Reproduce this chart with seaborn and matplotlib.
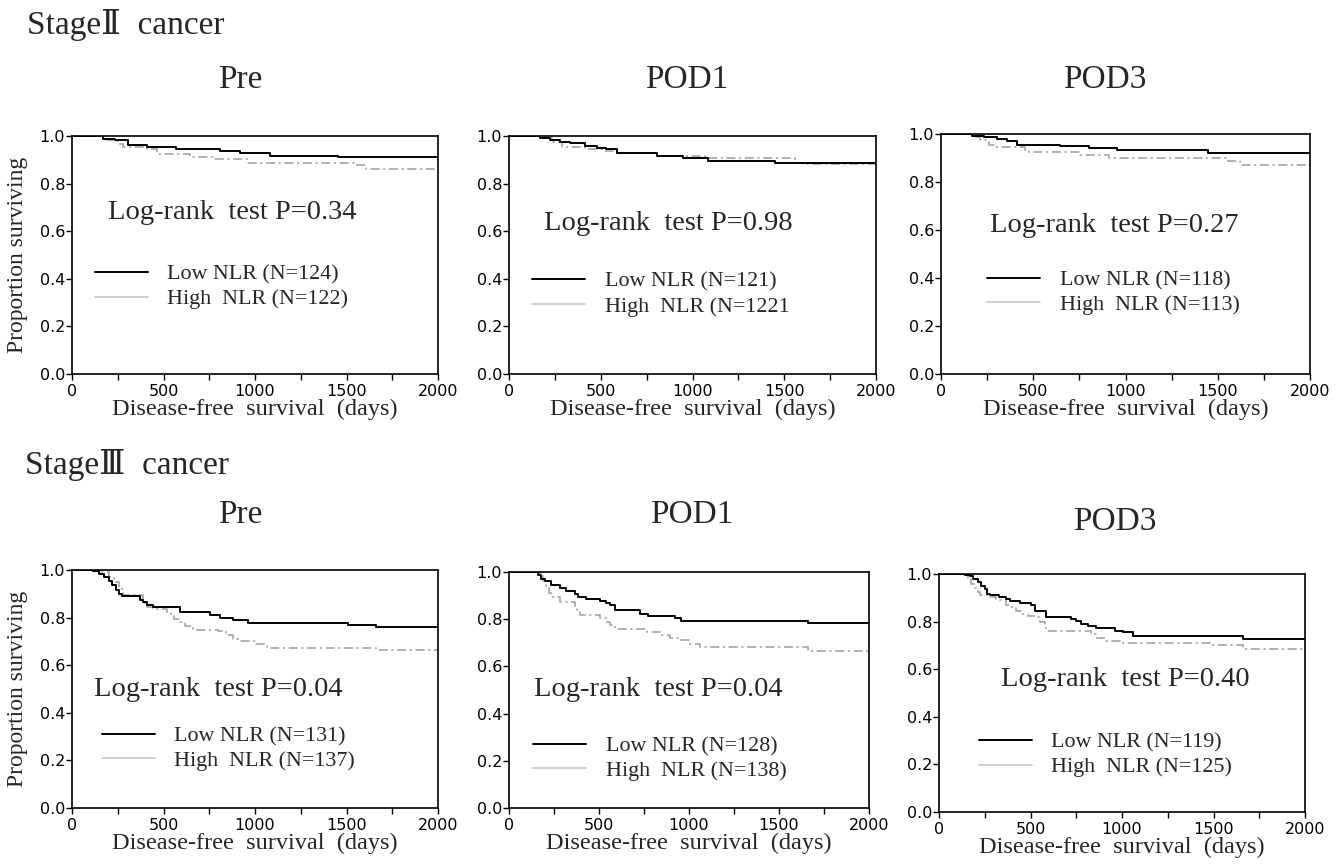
import numpy as np
import pandas as pd
import seaborn as sns
import matplotlib.pyplot as plt
from matplotlib.ticker import MultipleLocator, FormatStrFormatter

# Kaplan-Meier step points: days, proportion surviving
s2_pre_low_t = [0, 171, 235, 308, 408, 571, 808, 917, 1081, 1454, 2000]
s2_pre_low_s = [1, 0.986, 0.982, 0.963, 0.953, 0.946, 0.937, 0.93, 0.918, 0.912, 0.912]
s2_pre_high_t = [0, 190, 253, 280, 408, 462, 644, 772, 954, 1554, 1609, 2000]
s2_pre_high_s = [1, 0.983, 0.966, 0.955, 0.945, 0.924, 0.912, 0.902, 0.888, 0.877, 0.863, 0.863]

s2_pod1_low_t = [0, 167, 222, 277, 331, 413, 477, 531, 586, 804, 950, 1086, 1450, 2000]
s2_pod1_low_s = [1, 0.99, 0.983, 0.974, 0.969, 0.959, 0.951, 0.944, 0.929, 0.916, 0.909, 0.897, 0.886, 0.886]
s2_pod1_high_t = [0, 167, 240, 290, 413, 531, 586, 804, 1086, 1560, 1620, 2000]
s2_pod1_high_s = [1, 0.99, 0.975, 0.952, 0.946, 0.935, 0.929, 0.915, 0.908, 0.886, 0.883, 0.883]

s2_pod3_low_t = [0, 168, 231, 303, 357, 412, 646, 800, 953, 1449, 2000]
s2_pod3_low_s = [1, 0.992, 0.986, 0.978, 0.971, 0.956, 0.951, 0.94, 0.933, 0.921, 0.921]
s2_pod3_high_t = [0, 168, 213, 258, 285, 457, 475, 755, 908, 1558, 1621, 2000]
s2_pod3_high_s = [1, 0.989, 0.975, 0.955, 0.945, 0.932, 0.923, 0.914, 0.899, 0.889, 0.871, 0.871]

s3_pre_low_t = [0, 116, 150, 175, 200, 220, 240, 255, 275, 370, 390, 410, 444, 590, 753, 808, 881,
                963, 1509, 1663, 2000]
s3_pre_low_s = [1, 0.995, 0.985, 0.97, 0.955, 0.935, 0.915, 0.9, 0.892, 0.875, 0.865, 0.855, 0.845,
                0.825, 0.812, 0.8, 0.792, 0.778, 0.771, 0.76, 0.76]
s3_pre_high_t = [0, 160, 200, 230, 255, 280, 390, 410, 440, 517, 540, 560, 590, 620, 662, 800, 844,
                 880, 920, 1008, 1063, 1663, 2000]
s3_pre_high_s = [1, 0.99, 0.97, 0.95, 0.92, 0.895, 0.86, 0.845, 0.835, 0.825, 0.81, 0.795, 0.78,
                 0.765, 0.75, 0.742, 0.725, 0.71, 0.7, 0.688, 0.672, 0.662, 0.662]

s3_pod1_low_t = [0, 161, 180, 198, 235, 282, 319, 365, 384, 430, 504, 541, 560, 588, 727, 773, 921,
                 958, 1663, 2000]
s3_pod1_low_s = [1, 0.986, 0.972, 0.96, 0.945, 0.932, 0.921, 0.905, 0.895, 0.887, 0.877, 0.868, 0.86,
                 0.838, 0.822, 0.814, 0.804, 0.794, 0.783, 0.783]
s3_pod1_high_t = [0, 170, 190, 205, 220, 235, 282, 365, 375, 393, 504, 541, 560, 588, 764, 838, 893,
                  950, 1000, 1060, 1663, 2000]
s3_pod1_high_s = [1, 0.985, 0.96, 0.94, 0.91, 0.895, 0.874, 0.855, 0.838, 0.818, 0.803, 0.79, 0.775,
                  0.758, 0.746, 0.735, 0.72, 0.71, 0.695, 0.682, 0.667, 0.667]

s3_pod3_low_t = [0, 140, 168, 186, 213, 232, 250, 262, 277, 330, 368, 387, 441, 505, 523, 587, 724,
                 751, 778, 815, 860, 961, 1006, 1061, 1663, 2000]
s3_pod3_low_s = [1, 0.995, 0.99, 0.98, 0.965, 0.95, 0.935, 0.918, 0.91, 0.905, 0.895, 0.885, 0.88,
                 0.87, 0.845, 0.821, 0.811, 0.801, 0.79, 0.783, 0.772, 0.762, 0.755, 0.738, 0.726, 0.726]
s3_pod3_high_t = [0, 159, 177, 195, 213, 222, 277, 314, 368, 387, 423, 450, 487, 523, 550, 578, 587,
                  833, 860, 915, 988, 1499, 1663, 2000]
s3_pod3_high_s = [1, 0.985, 0.96, 0.94, 0.925, 0.91, 0.905, 0.89, 0.87, 0.86, 0.845, 0.83, 0.825,
                  0.82, 0.8, 0.785, 0.759, 0.748, 0.733, 0.72, 0.712, 0.702, 0.684, 0.684]

stage_titles = ["Stage\u2161  cancer", "Stage\u2162  cancer"]
time_titles = ["Pre", "POD1", "POD3", "Pre", "POD1", "POD3"]
p_values = ["0.34", "0.98", "0.27", "0.04", "0.04", "0.40"]
low_labels = ["Low NLR (N=124)", "Low NLR (N=121)", "Low NLR (N=118)",
              "Low NLR (N=131)", "Low NLR (N=128)", "Low NLR (N=119)"]
high_labels = ["High  NLR (N=122)", "High  NLR (N=1221", "High  NLR (N=113)",
               "High  NLR (N=137)", "High  NLR (N=138)", "High  NLR (N=125)"]

curves = [
    (s2_pre_low_t, s2_pre_low_s, s2_pre_high_t, s2_pre_high_s),
    (s2_pod1_low_t, s2_pod1_low_s, s2_pod1_high_t, s2_pod1_high_s),
    (s2_pod3_low_t, s2_pod3_low_s, s2_pod3_high_t, s2_pod3_high_s),
    (s3_pre_low_t, s3_pre_low_s, s3_pre_high_t, s3_pre_high_s),
    (s3_pod1_low_t, s3_pod1_low_s, s3_pod1_high_t, s3_pod1_high_s),
    (s3_pod3_low_t, s3_pod3_low_s, s3_pod3_high_t, s3_pod3_high_s),
]

sns.set_style("ticks")
plt.rcParams["font.family"] = ["DejaVu Sans"]
serif = ["Liberation Serif", "DejaVu Serif", "Noto Sans CJK JP"]

W, H = 1338, 868
fig = plt.figure(figsize=(W / 100, H / 100), dpi=100)

# layout in pixels (left, right, top, bottom) and positions in axes fractions
boxes = [(72, 438, 136, 374), (509, 876, 136, 374), (941, 1310, 134, 374),
         (72, 438, 570, 808), (509, 869, 572, 808), (939, 1305, 574, 812)]
title_xy = [(240, 80), (687, 80), (1105, 80), (240, 515), (692, 515), (1115, 522)]
text_xy = [(0.437, 0.68), (0.433, 0.634), (0.469, 0.62),
           (0.40, 0.496), (0.414, 0.50), (0.508, 0.555)]
legend_xy = [(0.063, 0.367), (0.063, 0.336), (0.125, 0.34),
             (0.082, 0.25), (0.067, 0.21), (0.109, 0.24)]

for i, (l, r, t, b) in enumerate(boxes):
    ax = fig.add_axes([l / W, 1 - b / H, (r - l) / W, (b - t) / H])
    lt, ls, ht, hs = curves[i]
    low = pd.DataFrame({"days": lt, "surv": ls})
    high = pd.DataFrame({"days": ht, "surv": hs})
    sns.lineplot(data=low, x="days", y="surv", ax=ax, color="black", lw=1.4,
                 drawstyle="steps-post", estimator=None, legend=False,
                 label=low_labels[i], zorder=3)
    sns.lineplot(data=high, x="days", y="surv", ax=ax, color="#ababab", lw=1.3,
                 linestyle=(0, (5, 2, 1.2, 2)), drawstyle="steps-post",
                 estimator=None, legend=False, label=high_labels[i], zorder=2)

    ax.set_xlim(0, 2000)
    ax.set_ylim(0, 1.0)
    ax.xaxis.set_major_locator(MultipleLocator(500))
    ax.xaxis.set_minor_locator(MultipleLocator(250))
    ax.set_yticks(np.arange(0, 1.01, 0.2))
    ax.yaxis.set_major_formatter(FormatStrFormatter("%.1f"))
    ax.tick_params(which="both", direction="out", length=4, width=1, colors="black",
                   labelsize=11.5)
    ax.tick_params(axis="y", pad=1)
    ax.tick_params(axis="x", pad=3)
    for s in ax.spines.values():
        s.set_visible(True)
        s.set_color("black")
        s.set_linewidth(1.2)

    ax.set_xlabel("Disease-free  survival  (days)", family=serif, fontsize=17.5)
    ax.xaxis.set_label_coords(0.5, -0.105)
    if i % 3 == 0:
        ax.set_ylabel("Proportion surviving", family=serif, fontsize=17)
        ax.yaxis.set_label_coords(-0.12, 0.5)
    else:
        ax.set_ylabel("")

    ax.text(text_xy[i][0], text_xy[i][1], "Log-rank  test P=" + p_values[i],
            transform=ax.transAxes, ha="center", va="center", fontsize=20.5, family=serif)

    leg = ax.legend(loc="center left", bbox_to_anchor=legend_xy[i], frameon=False,
                    prop={"family": serif, "size": 15.8}, handlelength=2.4,
                    handletextpad=0.9, labelspacing=0.2, borderpad=0, borderaxespad=0)
    leg.legend_handles[1].set_color("#cccccc")
    leg.legend_handles[1].set_linestyle("-")

    fig.text(title_xy[i][0] / W, 1 - title_xy[i][1] / H, time_titles[i],
             ha="center", va="center", fontsize=24, family=serif)

fig.text(27 / W, 1 - 25 / H, stage_titles[0], ha="left", va="center", fontsize=24, family=serif)
fig.text(25 / W, 1 - 465 / H, stage_titles[1], ha="left", va="center", fontsize=24, family=serif)

fig.savefig("out.png", dpi=100)
